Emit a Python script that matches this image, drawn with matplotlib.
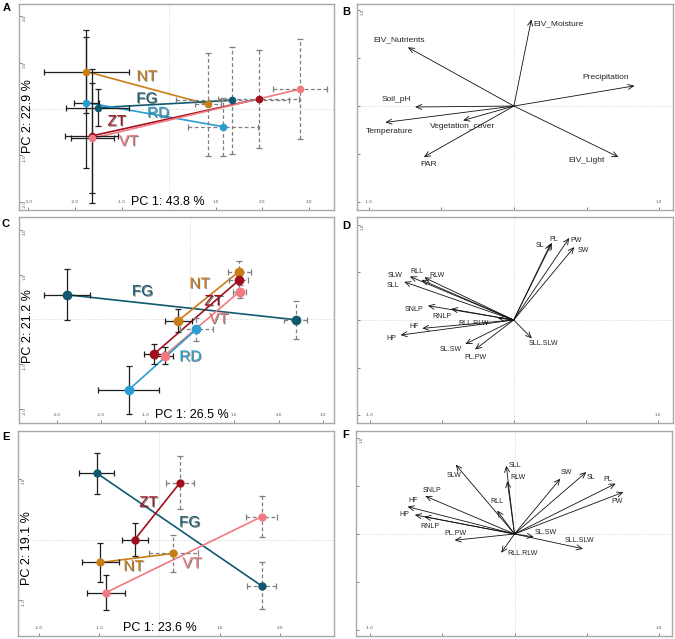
import matplotlib.pyplot as plt
import matplotlib.patheffects as pe

# group colours
colors = {'NT': '#c97d16', 'FG': '#10596f', 'RD': '#2a9dd2', 'ZT': '#a0101c', 'VT': '#f07a80'}

# ---- panel A (PCA scores, mean +- sd) ----
a_groups = ['NT', 'FG', 'RD', 'ZT', 'VT']
a_x1 = [-1.76, -1.52, -1.76, -1.65, -1.63]
a_y1 = [0.81, 0.03, 0.14, -0.58, -0.63]
a_xe1 = [0.90, 0.67, 0.27, 0.57, 0.45]
a_ye1 = [0.90, 0.40, 1.41, 1.45, 1.19]
a_x2 = [0.84, 1.36, 1.16, 1.92, 2.80]
a_y2 = [0.10, 0.19, -0.38, 0.22, 0.43]
a_xe2 = [0.27, 1.20, 0.75, 0.86, 0.58]
a_ye2 = [1.11, 1.15, 0.63, 1.05, 1.08]
a_lab_x = [-0.47, -0.47, -0.23, -1.11, -0.86]
a_lab_y = [0.70, 0.22, -0.09, -0.27, -0.70]

# ---- panel C ----
c_groups = ['FG', 'NT', 'ZT', 'VT', 'RD']
c_x1 = [-2.77, -0.26, -0.81, -0.57, -1.38]
c_y1 = [0.55, -0.03, -0.78, -0.81, -1.58]
c_xe1 = [0.51, 0.31, 0.22, 0.20, 0.69]
c_ye1 = [0.57, 0.25, 0.22, 0.20, 0.53]
c_x2 = [2.39, 1.11, 1.10, 1.12, 0.15]
c_y2 = [-0.01, 1.07, 0.87, 0.62, -0.22]
c_xe2 = [0.26, 0.26, 0.22, 0.15, 0.37]
c_ye2 = [0.43, 0.24, 0.20, 0.15, 0.26]
c_lab_x = [-1.07, 0.22, 0.54, 0.65, 0.01]
c_lab_y = [0.62, 0.79, 0.40, 0.00, -0.84]

# ---- panel E ----
e_groups = ['FG', 'ZT', 'NT', 'VT']
e_x1 = [-1.04, -0.41, -0.98, -0.89]
e_y1 = [1.10, 0.00, -0.38, -0.88]
e_xe1 = [0.29, 0.22, 0.30, 0.31]
e_ye1 = [0.34, 0.28, 0.32, 0.29]
e_x2 = [1.70, 0.34, 0.23, 1.70]
e_y2 = [-0.77, 0.94, -0.23, 0.38]
e_xe2 = [0.24, 0.23, 0.41, 0.26]
e_ye2 = [0.39, 0.44, 0.31, 0.34]
e_lab_x = [0.50, -0.18, -0.43, 0.54]
e_lab_y = [0.28, 0.61, -0.45, -0.40]

# ---- panel B (loadings) ----
b_names = ['EIV_Moisture', 'EIV_Nutrients', 'Precipitation', 'Soil_pH', 'Temperature',
           'Vegetation_cover', 'PAR', 'EIV_Light']
b_x = [0.12, -0.73, 0.83, -0.68, -0.885, -0.35, -0.62, 0.72]
b_y = [0.90, 0.61, 0.21, -0.01, -0.17, -0.15, -0.53, -0.53]
b_lab_x = [0.31, -0.79, 0.63, -0.81, -0.855, -0.35, -0.59, 0.50]
b_lab_y = [0.85, 0.69, 0.30, 0.07, -0.26, -0.215, -0.61, -0.57]

# ---- panel D ----
d_names = ['SL', 'PL', 'PW', 'SW', 'SLW', 'RLL', 'RLW', 'SLL', 'SNLP', 'RNLP',
           'RLL.RLW', 'HF', 'HP', 'SL.SW', 'PL.PW', 'SLL.SLW']
d_x = [0.256, 0.265, 0.385, 0.42, -0.72, -0.64, -0.62, -0.76, -0.595, -0.435,
       -0.11, -0.634, -0.785, -0.336, -0.268, 0.126]
d_y = [0.80, 0.81, 0.86, 0.765, 0.456, 0.42, 0.446, 0.40, 0.15, 0.116,
       0.02, -0.088, -0.158, -0.253, -0.309, -0.193]
d_lab_x = [0.18, 0.275, 0.435, 0.485, -0.82, -0.67, -0.53, -0.835, -0.69, -0.50,
           -0.275, -0.69, -0.85, -0.44, -0.263, 0.206]
d_lab_y = [0.78, 0.845, 0.835, 0.73, 0.467, 0.51, 0.47, 0.36, 0.105, 0.04,
           -0.04, -0.07, -0.19, -0.31, -0.396, -0.25]

# ---- panel F ----
f_names = ['SLW', 'SLL', 'RLW', 'RLL', 'SW', 'SL', 'PL', 'PW', 'SNLP', 'HF', 'HP',
           'RNLP', 'PL.PW', 'SL.SW', 'SLL.SLW', 'RLL.RLW']
f_x = [-0.407, -0.057, -0.05, -0.12, 0.317, 0.497, 0.70, 0.754, -0.618, -0.74, -0.69,
       -0.625, -0.414, 0.133, 0.474, -0.092]
f_y = [0.72, 0.71, 0.55, 0.243, 0.575, 0.644, 0.524, 0.435, 0.394, 0.284, 0.199,
       0.18, -0.065, -0.03, -0.154, -0.195]
f_lab_x = [-0.42, 0.007, 0.023, -0.124, 0.36, 0.53, 0.645, 0.71, -0.57, -0.70, -0.76,
           -0.584, -0.41, 0.214, 0.45, 0.053]
f_lab_y = [0.61, 0.71, 0.585, 0.335, 0.64, 0.59, 0.565, 0.335, 0.45, 0.353, 0.199,
           0.08, 0.01, 0.017, -0.065, -0.205]

W, H = 675, 639
fig = plt.figure(figsize=(W / 100, H / 100), dpi=100)


def add_ax(left, right, top, bottom):
    return fig.add_axes([left / W, 1 - bottom / H, (right - left) / W, (bottom - top) / H])


def frame(ax, xlim, ylim):
    ax.set_xlim(xlim)
    ax.set_ylim(ylim)
    for s in ax.spines.values():
        s.set_color('#a8a8a8')
        s.set_linewidth(1.0)
    ax.axhline(0, color='#cccccc', lw=0.6, ls=':', zorder=0)
    ax.axvline(0, color='#cccccc', lw=0.6, ls=':', zorder=0)
    ax.tick_params(direction='in', length=2.5, width=0.5, color='#555555',
                   labelcolor='#555555', labelsize=3)
    ax.tick_params(axis='x', pad=-7)
    ax.tick_params(axis='y', pad=-5.5, labelrotation=90)


def pca_panel(ax, groups, x1, y1, xe1, ye1, x2, y2, xe2, ye2, lx, ly,
              xlim, ylim, xticks, yticks, xlab, ylab, ms, xlab_x):
    frame(ax, xlim, ylim)
    ax.set_xticks(xticks, ['%.1f' % t for t in xticks])
    ax.set_yticks(yticks, ['%.1f' % t for t in yticks])
    for i, g in enumerate(groups):
        c = colors[g]
        ax.plot([x1[i], x2[i]], [y1[i], y2[i]], color=c, lw=1.2, zorder=2)
        ax.errorbar(x1[i], y1[i], xerr=xe1[i], yerr=ye1[i], fmt='none', ecolor='#1e1e1e',
                    elinewidth=0.9, capsize=2, capthick=0.9, zorder=3)
        eb = ax.errorbar(x2[i], y2[i], xerr=xe2[i], yerr=ye2[i], fmt='none', ecolor='#7f7f7f',
                         elinewidth=0.9, capsize=2, capthick=0.9, zorder=3)
        for lc in eb[2]:
            lc.set_linestyle((0, (3, 2)))
        ax.plot([x1[i], x2[i]], [y1[i], y2[i]], 'o', color=c, ms=ms, mec=c, zorder=4)
        ax.text(lx[i], ly[i], g, color=c, fontsize=11, ha='center', va='center',
                family='Liberation Sans', zorder=5,
                path_effects=[pe.withSimplePatchShadow(offset=(0.7, -0.7),
                                                       shadow_rgbFace='#444444', alpha=0.7)])
    ax.text(xlab_x, 0.008, xlab, transform=ax.get_xaxis_transform(), ha='left',
            va='bottom', fontsize=9, family='Liberation Sans')
    ax.text(0.008, -0.14, ylab, transform=ax.get_yaxis_transform(), ha='left',
            va='center', rotation=90, fontsize=9, family='Liberation Sans')


def biplot(ax, names, tx, ty, lx, ly, fs, xlim, ylim):
    frame(ax, xlim, ylim)
    ax.set_xticks([-1, -0.5, 0, 0.5, 1], ['-1.0', '', '', '', '1.0'])
    ax.set_yticks([-1, -0.5, 0, 0.5, 1], ['', '', '', '', '1.0'])
    for i, n in enumerate(names):
        ax.annotate('', xy=(tx[i], ty[i]), xytext=(0, 0),
                    arrowprops=dict(arrowstyle='->,head_length=0.4,head_width=0.18',
                                    lw=0.6, color='#111111', shrinkA=0, shrinkB=0))
        ax.text(lx[i], ly[i], n, ha='center', va='center', fontsize=fs,
                family='Liberation Sans', color='#222222')


axA = add_ax(19, 334, 4, 210)
pca_panel(axA, a_groups, a_x1, a_y1, a_xe1, a_ye1, a_x2, a_y2, a_xe2, a_ye2,
          a_lab_x, a_lab_y, (-3.2, 3.53), (-2.18, 2.27),
          [-3, -2, -1, 1, 2, 3], [-2, -1, 1, 2], 'PC 1: 43.8 %', 'PC 2: 22.9 %', 4.5, -0.80)

axC = add_ax(19, 334, 217, 423)
pca_panel(axC, c_groups, c_x1, c_y1, c_xe1, c_ye1, c_x2, c_y2, c_xe2, c_ye2,
          c_lab_x, c_lab_y, (-3.85, 3.25), (-2.32, 2.29),
          [-3, -2, -1, 1, 2, 3], [-2, -1, 1, 2], 'PC 1: 26.5 %', 'PC 2: 21.2 %', 6, -0.78)

axE = add_ax(18, 334, 431, 636)
pca_panel(axE, e_groups, e_x1, e_y1, e_xe1, e_ye1, e_x2, e_y2, e_xe2, e_ye2,
          e_lab_x, e_lab_y, (-2.35, 2.90), (-1.60, 1.80),
          [-2, -1, 1, 2], [-1, 1], 'PC 1: 23.6 %', 'PC 2: 19.1 %', 5, -0.60)

axB = add_ax(357, 673, 4, 210)
biplot(axB, b_names, b_x, b_y, b_lab_x, b_lab_y, 6, (-1.08, 1.095), (-1.08, 1.06))

axD = add_ax(357, 673, 217, 423)
biplot(axD, d_names, d_x, d_y, d_lab_x, d_lab_y, 5, (-1.087, 1.105), (-1.08, 1.08))

axF = add_ax(356, 672, 431, 636)
biplot(axF, f_names, f_x, f_y, f_lab_x, f_lab_y, 5, (-1.097, 1.09), (-1.06, 1.07))

# panel letters
for letter, px, py in [('A', 3, 3), ('B', 342, 7), ('C', 2, 219), ('D', 342, 221),
                       ('E', 2, 432), ('F', 342, 430)]:
    fig.text(px / W, 1 - py / H, letter, fontsize=8, fontweight='bold',
             family='Liberation Sans', ha='left', va='top')

fig.savefig('out.png', dpi=100)
